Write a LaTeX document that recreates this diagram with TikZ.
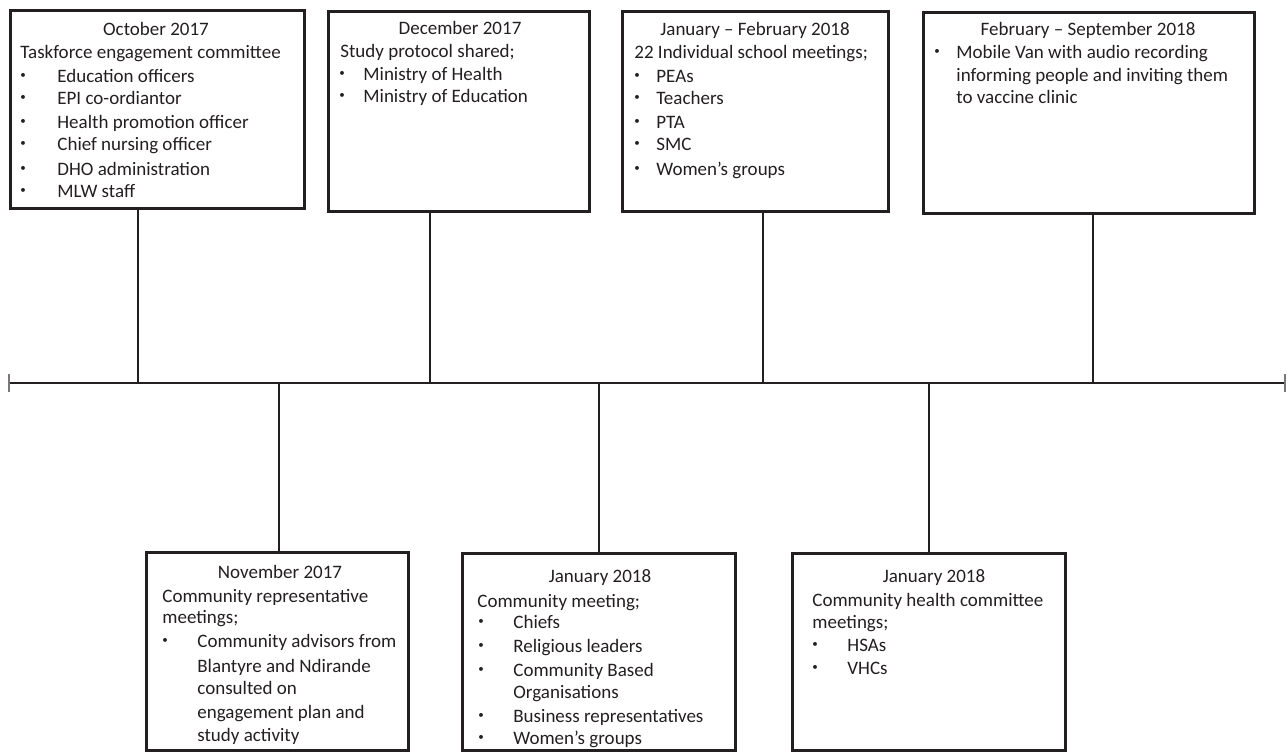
\documentclass[tikz,border=0pt]{standalone}
\usepackage{fontspec}
\setmainfont{Carlito}
\usepackage{xcolor}
\definecolor{tlink}{RGB}{35,31,32}
\definecolor{tlgray}{RGB}{120,120,120}
\usepackage{tikz}
\usetikzlibrary{arrows.meta}
\newcommand{\bul}[1]{\makebox[#1][l]{\raisebox{0.35ex}{\fontsize{5.5}{5.5}\selectfont\textbullet}}}
\tikzset{
  evbox/.style={draw=tlink, line width=1.5pt, inner sep=0pt, outer sep=0pt, anchor=north west},
  stem/.style={draw=tlink, line width=1pt},
  txt/.style={font=\fontsize{9.5}{11.5}\selectfont, text=tlink, inner sep=0pt, anchor=base west},
  ttl/.style={txt, anchor=base}
}

\begin{document}
\begin{tikzpicture}[x=0.5pt, y=-0.5pt]
  \useasboundingbox (0,0) rectangle (1288,752);

  % Timeline
  \coordinate (tl) at (8,383);
  \coordinate (tr) at (1286,383);
  \draw[tlink, line width=1pt, {Bar[width=9pt, color=tlgray]}-{Bar[width=9pt, color=tlgray]}] (tl) -- (tr);

  % Event boxes
  \node[evbox, minimum width=147pt,   minimum height=99pt]   (oct)    at (10,10)   {};
  \node[evbox, minimum width=130.5pt, minimum height=100pt]  (dec)    at (328,11)  {};
  \node[evbox, minimum width=133pt,   minimum height=100pt]  (janfeb) at (622,11)  {};
  \node[evbox, minimum width=165.5pt, minimum height=100.5pt] (febsep) at (923,12) {};
  \node[evbox, minimum width=131pt,   minimum height=99pt]   (nov)    at (146,552) {};
  \node[evbox, minimum width=136.5pt, minimum height=98.5pt] (jan)    at (462,553) {};
  \node[evbox, minimum width=136.5pt, minimum height=98.5pt] (chc)    at (792,553) {};

  % Stems
  \coordinate (m1) at (138,383);
  \coordinate (m2) at (430,383);
  \coordinate (m3) at (763,383);
  \coordinate (m4) at (1093,383);
  \coordinate (m5) at (279,383);
  \coordinate (m6) at (599,383);
  \coordinate (m7) at (929,383);
  \draw[stem] (m1) -- (m1 |- oct.south);
  \draw[stem] (m2) -- (m2 |- dec.south);
  \draw[stem] (m3) -- (m3 |- janfeb.south);
  \draw[stem] (m4) -- (m4 |- febsep.south);
  \draw[stem] (m5) -- (m5 |- nov.north);
  \draw[stem] (m6) -- (m6 |- jan.north);
  \draw[stem] (m7) -- (m7 |- chc.north);

  % --- October 2017 ---
  \node[ttl] (oct-t) at (156,35) {October 2017};
  \node[txt] (oct-h) at (20,58) {Taskforce engagement committee};
  \node[txt] (oct-1) at (20,82)  {\bul{18.5pt}Education officers};
  \node[txt] (oct-2) at (20,104) {\bul{18.5pt}EPI co-ordiantor};
  \node[txt] (oct-3) at (20,128) {\bul{18.5pt}Health promotion officer};
  \node[txt] (oct-4) at (20,150) {\bul{18.5pt}Chief nursing officer};
  \node[txt] (oct-5) at (20,175) {\bul{18.5pt}DHO administration};
  \node[txt] (oct-6) at (20,197) {\bul{18.5pt}MLW staff};

  % --- December 2017 ---
  \node[ttl] (dec-t) at (460,34) {December 2017};
  \node[txt] (dec-h) at (340,57) {Study protocol shared;};
  \node[txt] (dec-1) at (339,80)  {\bul{12pt}Ministry of Health};
  \node[txt] (dec-2) at (339,102) {\bul{12pt}Ministry of Education};

  % --- January - February 2018 ---
  \node[ttl] (janfeb-t) at (755,35) {January -- February 2018};
  \node[txt] (janfeb-h) at (634,58) {22 Individual school meetings;};
  \node[txt] (janfeb-1) at (634,82)  {\bul{11pt}PEAs};
  \node[txt] (janfeb-2) at (634,104) {\bul{11pt}Teachers};
  \node[txt] (janfeb-3) at (634,128) {\bul{11pt}PTA};
  \node[txt] (janfeb-4) at (634,150) {\bul{11pt}SMC};
  \node[txt] (janfeb-5) at (634,175) {\bul{11pt}Women’s groups};

  % --- February - September 2018 ---
  \node[ttl] (febsep-t) at (1088,35) {February -- September 2018};
  \node[txt] (febsep-1) at (934,58)  {\bul{11pt}Mobile Van with audio recording};
  \node[txt] (febsep-2) at (956,81)  {informing people and inviting them};
  \node[txt] (febsep-3) at (956,103) {to vaccine clinic};

  % --- November 2017 ---
  \node[ttl] (nov-t) at (280,578) {November 2017};
  \node[txt] (nov-h1) at (162,602) {Community representative};
  \node[txt] (nov-h2) at (162,623) {meetings;};
  \node[txt] (nov-1) at (162,647) {\bul{17.5pt}Community advisors from};
  \node[txt] (nov-2) at (197,672) {Blantyre and Ndirande};
  \node[txt] (nov-3) at (197,694) {consulted on};
  \node[txt] (nov-4) at (197,718) {engagement plan and};
  \node[txt] (nov-5) at (197,741) {study activity};

  % --- January 2018: community meeting ---
  \node[ttl] (jan-t) at (600,582) {January 2018};
  \node[txt] (jan-h) at (477,607) {Community meeting;};
  \node[txt] (jan-1) at (478,628) {\bul{17.5pt}Chiefs};
  \node[txt] (jan-2) at (478,652) {\bul{17.5pt}Religious leaders};
  \node[txt] (jan-3) at (478,676) {\bul{17.5pt}Community Based};
  \node[txt] (jan-4) at (513,698) {Organisations};
  \node[txt] (jan-5) at (478,722) {\bul{17.5pt}Business representatives};
  \node[txt] (jan-6) at (478,744) {\bul{17.5pt}Women’s groups};

  % --- January 2018: health committee ---
  \node[ttl] (chc-t) at (934,582) {January 2018};
  \node[txt] (chc-h1) at (812,606) {Community health committee};
  \node[txt] (chc-h2) at (812,628) {meetings;};
  \node[txt] (chc-1) at (812,651) {\bul{17.5pt}HSAs};
  \node[txt] (chc-2) at (812,674) {\bul{17.5pt}VHCs};
\end{tikzpicture}
\end{document}
